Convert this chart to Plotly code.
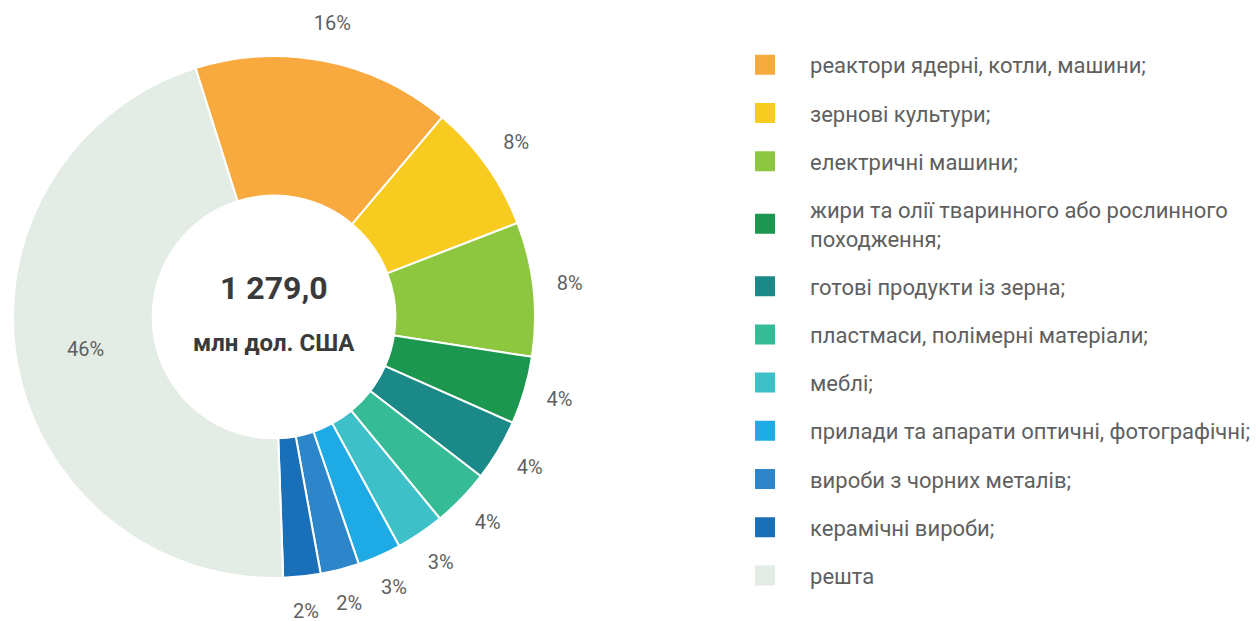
import math
import plotly.graph_objects as go

# ── Data ──────────────────────────────────────────────────────────────────────
categories = [
    "реактори ядерні, котли, машини;",
    "зернові культури;",
    "електричні машини;",
    "жири та олії тваринного або рослинного<br>походження;",
    "готові продукти із зерна;",
    "пластмаси, полімерні матеріали;",
    "меблі;",
    "прилади та апарати оптичні, фотографічні;",
    "вироби з чорних металів;",
    "керамічні вироби;",
    "решта",
]
shares = [16.0, 8.0, 8.3, 4.2, 3.8, 3.6, 3.0, 2.7, 2.4, 2.3, 45.7]
total_value = "1 279,0"
total_unit = "млн дол. США"

COLORS = [
    "#F9AA3E", "#F7CB20", "#8DC63F", "#1B9750", "#1A8987", "#35BC97",
    "#3DC0C8", "#1EABE5", "#2D86C9", "#1A6FB9", "#E3ECE5",
]

FONT = "Roboto, 'Open Sans', sans-serif"
TEXT_GREY = "#5F5F5F"

# ── Geometry (pixels of the figure) ───────────────────────────────────────────
W, H = 1258, 621
CX, CY, R = 266, 309, 261       # donut centre and outer radius
ROTATION = -17.5
LABEL_R = 1.14                  # outside labels, in units of the radius

PIE_X = [(CX - R) / W, (CX + R) / W]
PIE_Y = [1 - (CY + R) / H, 1 - (CY - R) / H]

fig = go.Figure()

# the donut itself; only the big "решта" slice carries its label inside
fig.add_trace(go.Pie(
    labels=categories,
    values=shares,
    hole=0.465,
    sort=False,
    direction="clockwise",
    rotation=ROTATION,
    marker=dict(colors=COLORS, line=dict(color="white", width=2)),
    textposition=["none"] * (len(shares) - 1) + ["inside"],
    texttemplate="%{percent:.0%}",
    insidetextorientation="horizontal",
    insidetextfont=dict(family=FONT, size=20, color=TEXT_GREY),
    domain=dict(x=PIE_X, y=PIE_Y),
    showlegend=False,
    automargin=False,
    hoverinfo="label+percent",
))

# percentage labels floating outside the ring, placed on an xy overlay whose
# unit equals the pie radius
total = sum(shares)
lx, ly, cum = [], [], 0.0
for v in shares[:-1]:
    a = math.radians(ROTATION + 360 * (cum + v / 2) / total)
    lx.append(LABEL_R * math.sin(a))
    ly.append(LABEL_R * math.cos(a))
    cum += v
pct_text = [f"{round(100 * v / total)}%" for v in shares[:-1]]

fig.add_trace(go.Scatter(
    x=lx, y=ly, text=pct_text, mode="text",
    textfont=dict(family=FONT, size=20, color=TEXT_GREY),
    cliponaxis=False, showlegend=False, hoverinfo="skip",
))

# legend entries as invisible scatter traces so the gaps can be controlled
for i, (name, col) in enumerate(zip(categories, COLORS)):
    fig.add_trace(go.Scatter(
        x=[None], y=[None], mode="markers", name=name,
        legendgroup=f"g{i}",
        marker=dict(symbol="square", size=16, color=col,
                    line=dict(color=col, width=4)),
        hoverinfo="skip",
    ))

cx = (PIE_X[0] + PIE_X[1]) / 2
fig.add_annotation(text=f"<b>{total_value}</b>", x=cx, y=1 - 280 / H,
                   xref="paper", yref="paper", xanchor="center", yanchor="middle",
                   showarrow=False,
                   font=dict(family=FONT, size=32, color="#3A3A3A"))
fig.add_annotation(text=f"<b>{total_unit}</b>", x=cx, y=1 - 335 / H,
                   xref="paper", yref="paper", xanchor="center", yanchor="middle",
                   showarrow=False,
                   font=dict(family=FONT, size=24, color="#3A3A3A"))

X_DOM = 0.5
fig.update_layout(
    width=W, height=H,
    paper_bgcolor="white", plot_bgcolor="rgba(0,0,0,0)",
    margin=dict(l=0, r=0, t=0, b=0),
    xaxis=dict(domain=[0, X_DOM], range=[-CX / R, (X_DOM * W - CX) / R],
               visible=False, fixedrange=True),
    yaxis=dict(domain=[0, 1], range=[-(H - CY) / R, CY / R],
               visible=False, fixedrange=True),
    showlegend=True,
    legend=dict(
        x=0.566, y=0.942, xanchor="left", yanchor="top",
        traceorder="grouped", tracegroupgap=16.6,
        itemwidth=80, itemclick=False,
        font=dict(family=FONT, size=22, color=TEXT_GREY),
        bgcolor="rgba(0,0,0,0)",
    ),
)

fig.write_html("out.html")
